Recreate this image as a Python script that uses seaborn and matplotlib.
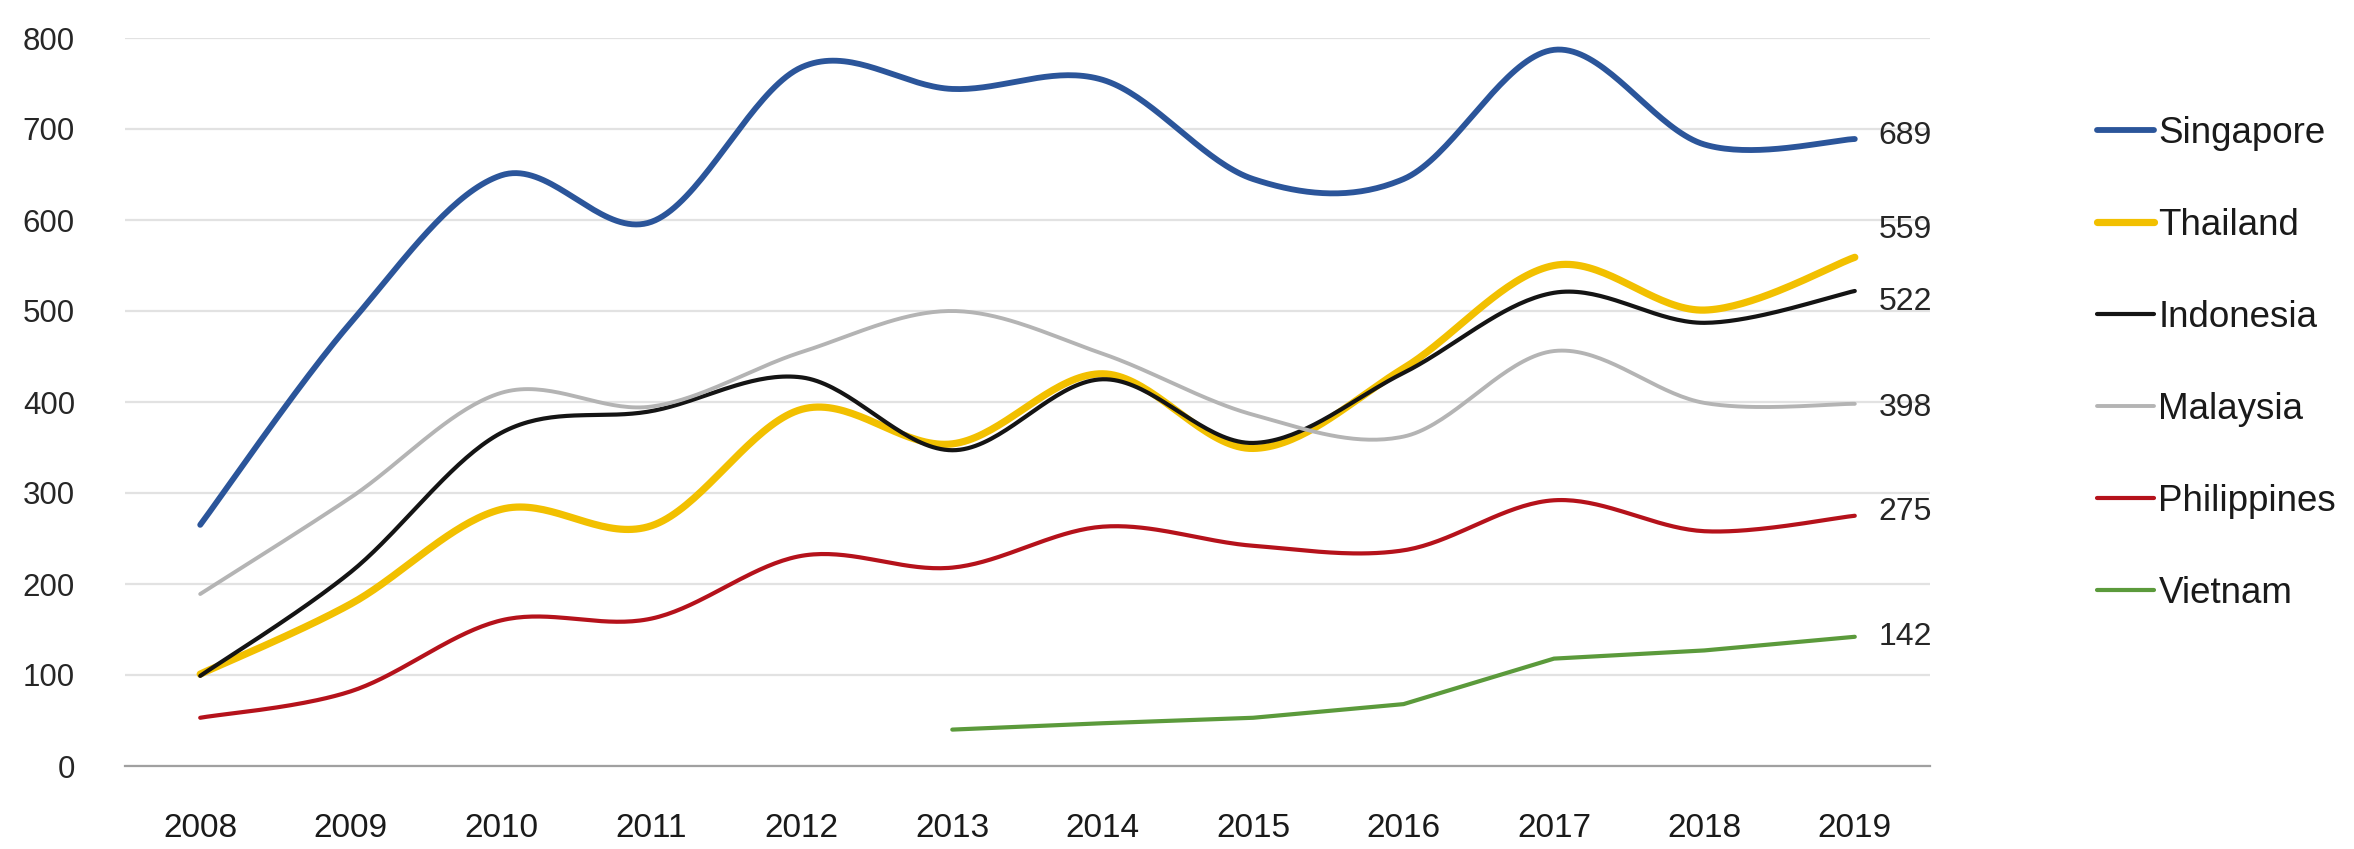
import numpy as np
import pandas as pd
import matplotlib
matplotlib.use("Agg")
import matplotlib.pyplot as plt
import seaborn as sns

# ---- data -------------------------------------------------------------
years = ["2008", "2009", "2010", "2011", "2012", "2013",
         "2014", "2015", "2016", "2017", "2018", "2019"]

singapore = [265, 487, 649, 598, 768, 744, 754, 645, 645, 787, 683, 689]
thailand = [101, 178, 282, 264, 392, 354, 431, 349, 437, 550, 501, 559]
indonesia = [99, 213, 366, 390, 427, 347, 425, 355, 432, 520, 487, 522]
malaysia = [189, 295, 410, 395, 455, 500, 453, 386, 362, 456, 399, 398]
philippines = [53, 82, 160, 162, 231, 218, 263, 242, 237, 292, 258, 275]
vietnam = [None, None, None, None, None, 40, 47, 53, 68, 118, 127, 142]

countries = ["Singapore", "Thailand", "Indonesia", "Malaysia", "Philippines", "Vietnam"]
series = [singapore, thailand, indonesia, malaysia, philippines, vietnam]
colors = ["#2b559a", "#f2c000", "#141414", "#b4b4b4", "#b5121b", "#5b9a3b"]
widths = [4.2, 5.2, 3.0, 2.8, 3.0, 3.0]
smoothed = [True, True, True, True, True, False]
# vertical nudges (points) for the end-of-line value labels
label_dy = [2, 20, -8, -3, 3, 0]


def smooth_curve(x, y, n=40):
    """Bezier curve through the points, Catmull-Rom style control points."""
    x = np.asarray(x, float)
    y = np.asarray(y, float)
    px = np.concatenate([[x[0]], x, [x[-1]]])
    py = np.concatenate([[y[0]], y, [y[-1]]])
    xs, ys = [], []
    t = np.linspace(0, 1, n)
    for i in range(1, len(px) - 2):
        p0 = np.array([px[i], py[i]])
        p1 = np.array([px[i + 1], py[i + 1]])
        c1 = p0 + (p1 - np.array([px[i - 1], py[i - 1]])) / 6.0
        c2 = p1 - (np.array([px[i + 2], py[i + 2]]) - p0) / 6.0
        b = ((1 - t) ** 3)[:, None] * p0 + (3 * (1 - t) ** 2 * t)[:, None] * c1 \
            + (3 * (1 - t) * t ** 2)[:, None] * c2 + (t ** 3)[:, None] * p1
        if i > 1:
            b = b[1:]
        xs.append(b[:, 0])
        ys.append(b[:, 1])
    return np.concatenate(xs), np.concatenate(ys)


# ---- style ------------------------------------------------------------
sns.set_theme(style="white")
plt.rcParams["font.family"] = ["Liberation Sans", "DejaVu Sans"]

fig = plt.figure(figsize=(23.54, 8.49), dpi=100)
ax = fig.add_axes([125 / 2354, 1 - 766 / 849, (1930 - 125) / 2354, (766 - 38) / 849])

pos = np.arange(len(years))
for name, vals, col, lw, smooth, dy in zip(countries, series, colors, widths, smoothed, label_dy):
    df = pd.DataFrame({"x": pos, "y": pd.array(vals, dtype="Float64")}).dropna()
    xv = df["x"].to_numpy(float)
    yv = df["y"].to_numpy(float)
    if smooth:
        cx, cy = smooth_curve(xv, yv)
    else:
        cx, cy = xv, yv
    sns.lineplot(x=cx, y=cy, ax=ax, sort=False, estimator=None, color=col,
                 linewidth=lw, label=name, solid_capstyle="round")
    ax.annotate(f"{int(yv[-1])}", xy=(xv[-1], yv[-1]), xytext=(17, dy),
                textcoords="offset points", ha="left", va="center",
                fontsize=23, color="#262626")

ax.set_xlim(-0.5, len(years) - 0.5)
ax.set_ylim(0, 800)
ax.set_yticks(np.arange(0, 801, 100))
ax.set_xticks(pos)
ax.set_xticklabels(years)
ax.set_xticks(np.arange(-0.5, len(years), 1.0), minor=True)

ax.grid(axis="y", color="#e2e2e2", linewidth=1.6)
ax.grid(axis="x", visible=False)
ax.set_axisbelow(True)
for side in ["left", "right", "top"]:
    ax.spines[side].set_visible(False)
ax.spines["bottom"].set_color("#a0a0a0")
ax.spines["bottom"].set_linewidth(1.6)

ax.tick_params(axis="y", length=0, pad=36, labelsize=22.5, labelcolor="#262626")
ax.tick_params(axis="x", which="major", length=0, pad=34, labelsize=24, labelcolor="#1a1a1a")
ax.tick_params(axis="x", which="minor", length=10, width=1.4, color="#a0a0a0", direction="out")
ax.set_xlabel("")
ax.set_ylabel("")

handles, labels = ax.get_legend_handles_labels()
ax.legend(handles, labels, loc="upper left",
          bbox_to_anchor=(2097 / 2354, 1 - 116 / 849), bbox_transform=fig.transFigure,
          frameon=False, fontsize=26.5, handlelength=1.55, handletextpad=0.12,
          labelspacing=1.55, borderpad=0, borderaxespad=0, labelcolor="#1a1a1a")

fig.savefig("out.png", dpi=100, facecolor="white")
